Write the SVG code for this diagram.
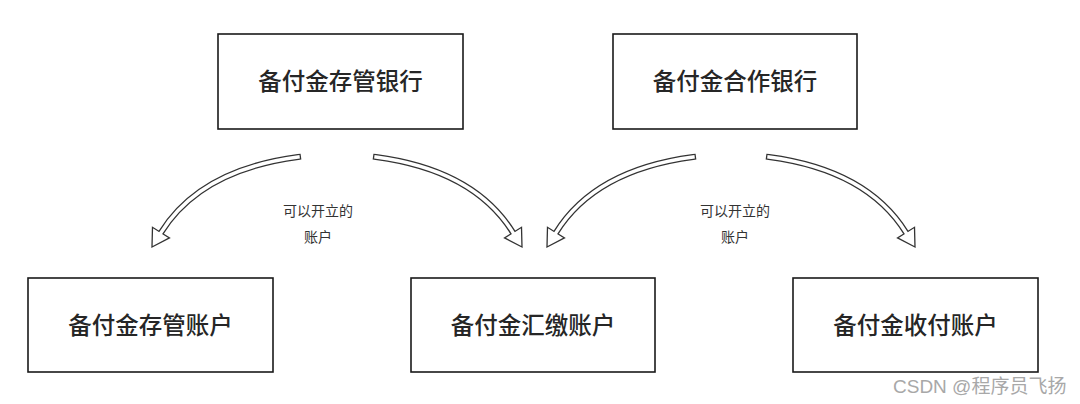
<svg xmlns="http://www.w3.org/2000/svg" xmlns:xlink="http://www.w3.org/1999/xlink" width="1080" height="404" viewBox="0 0 1080 404">
<style>
.box{fill:#fff;stroke:#1a1a1a;stroke-width:1.6}
.bt{font-family:"Noto Sans CJK SC","Noto Sans",sans-serif;font-size:23.5px;fill:#262626;text-anchor:middle;font-weight:500}
.lb{font-family:"Noto Sans CJK SC","Noto Sans",sans-serif;font-size:14px;fill:#333;text-anchor:middle}
.wm{font-family:"Liberation Sans","Noto Sans CJK SC",sans-serif;font-size:19px;fill:#a8a8a8}
.so{fill:none;stroke:#333;stroke-width:6;stroke-linecap:square}
.si{fill:none;stroke:#fff;stroke-width:3.4;stroke-linecap:square}
.hd{fill:#fff;stroke:#333;stroke-width:1.3;stroke-linejoin:miter}
</style>
<defs>
<polygon id="head" class="hd" points="0,0 -17,-10 -17,10"/>
</defs>
<rect width="1080" height="404" fill="#fff"/>
<g id="n1"><rect class="box" x="218" y="34" width="245" height="95"/><text class="bt" x="340.5" y="89.5">备付金存管银行</text></g>
<g id="n2"><rect class="box" x="613" y="34" width="244" height="95"/><text class="bt" x="735" y="89.5">备付金合作银行</text></g>
<g id="n3"><rect class="box" x="28" y="278" width="245" height="94"/><text class="bt" x="150.5" y="333.5">备付金存管账户</text></g>
<g id="n4"><rect class="box" x="411" y="278" width="244" height="94"/><text class="bt" x="533" y="333.5">备付金汇缴账户</text></g>
<g id="n5"><rect class="box" x="793" y="278" width="245" height="94"/><text class="bt" x="915.5" y="333.5">备付金收付账户</text></g>
<g id="connectors">
<path class="so" d="M298,157 Q200,170 161,232.6"/>
<use xlink:href="#head" transform="translate(152,247) rotate(121.9)"/>
<path class="si" d="M298,157 Q200,170 161,232.6"/>
<path class="so" d="M376,157 Q474,170 513,232.6"/>
<use xlink:href="#head" transform="translate(522,247) rotate(58.1)"/>
<path class="si" d="M376,157 Q474,170 513,232.6"/>
<path class="so" d="M693,157 Q595,170 556,232.6"/>
<use xlink:href="#head" transform="translate(547,247) rotate(121.9)"/>
<path class="si" d="M693,157 Q595,170 556,232.6"/>
<path class="so" d="M769,157 Q867,170 906,232.6"/>
<use xlink:href="#head" transform="translate(915,247) rotate(58.1)"/>
<path class="si" d="M769,157 Q867,170 906,232.6"/>
</g>
<g id="labels">
<text class="lb" x="318" y="216">可以开立的</text>
<text class="lb" x="318" y="242">账户</text>
<text class="lb" x="735" y="216">可以开立的</text>
<text class="lb" x="735" y="242">账户</text>
</g>
<text class="wm" x="893" y="393">CSDN @程序员飞扬</text>
</svg>
